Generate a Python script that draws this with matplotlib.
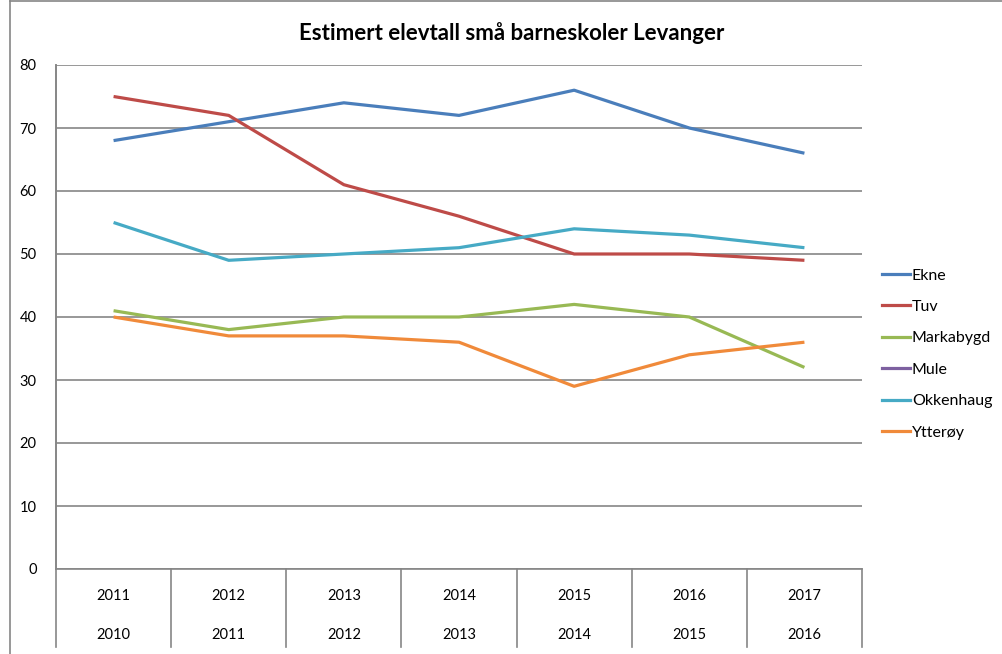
import matplotlib
matplotlib.use("Agg")
import matplotlib.pyplot as plt
from matplotlib.lines import Line2D
import numpy as np

plt.rcParams['font.family'] = ['Lato', 'DejaVu Sans']

years_top = ["2011", "2012", "2013", "2014", "2015", "2016", "2017"]
years_bottom = ["2010", "2011", "2012", "2013", "2014", "2015", "2016"]

series_names = ["Ekne", "Tuv", "Markabygd", "Mule", "Okkenhaug", "Ytterøy"]
ekne = [68, 71, 74, 72, 76, 70, 66]
tuv = [75, 72, 61, 56, 50, 50, 49]
markabygd = [41, 38, 40, 40, 42, 40, 32]
mule = [np.nan] * 7
okkenhaug = [55, 49, 50, 51, 54, 53, 51]
ytteroy = [40, 37, 37, 36, 29, 34, 36]
series_values = [ekne, tuv, markabygd, mule, okkenhaug, ytteroy]
colors = ["#4A7EBB", "#BE4B48", "#98B954", "#7D60A0", "#46AAC5", "#F08A3A"]

W, H = 1002, 654
fig = plt.figure(figsize=(W / 100, H / 100), dpi=100)

x0, x1 = 56, 862
ytop, ybot = 65, 569
ax = fig.add_axes([x0 / W, (H - ybot) / H, (x1 - x0) / W, (ybot - ytop) / H])

n = len(years_top)
xs = np.arange(n)
for name, vals, c in zip(series_names, series_values, colors):
    ax.plot(xs, vals, color=c, lw=2.3, label=name, solid_capstyle='butt')

ax.set_xlim(-0.5, n - 0.5)
ax.set_ylim(0, 80)
ax.set_yticks(range(0, 81, 10))
ax.yaxis.grid(True, color="#868686", lw=1.2)
ax.set_axisbelow(True)
for s in ["top", "right", "bottom"]:
    ax.spines[s].set_visible(False)
ax.spines["left"].set_color("#868686")
ax.spines["left"].set_linewidth(1.2)
ax.tick_params(axis='y', length=0, pad=14, labelsize=10.5)
ax.tick_params(axis='x', length=0)
ax.set_xticks([])
ax.axhline(0, color="#868686", lw=1.2, clip_on=False)

# multi-level category axis
trans = ax.get_xaxis_transform()
sep_bottom = -(647 - ybot) / (ybot - ytop)
for i in range(n + 1):
    xb = i - 0.5
    ax.add_line(Line2D([xb, xb], [0, sep_bottom], transform=trans, color="#868686", lw=1.2, clip_on=False))
ax.add_line(Line2D([-0.5, -0.5], [1, 0], transform=trans, color="#868686", lw=1.2, clip_on=False))
row1 = -(596 - ybot) / (ybot - ytop)
row2 = -(635 - ybot) / (ybot - ytop)
for i in range(n):
    ax.text(i, row1, years_top[i], transform=trans, ha='center', va='center', fontsize=10.5)
    ax.text(i, row2, years_bottom[i], transform=trans, ha='center', va='center', fontsize=10.5)

# legend
handles = [Line2D([0], [0], color=c, lw=2.3) for c in colors]
leg = fig.legend(handles, series_names, loc='upper left', bbox_to_anchor=(876 / W, 1 - 262 / H),
                 frameon=False, fontsize=11.5, handlelength=1.75, handletextpad=0.1,
                 labelspacing=1.08, borderaxespad=0)

fig.text(512 / W, 1 - 33 / H, "Estimert elevtall små barneskoler Levanger",
         ha='center', va='center', fontsize=16, fontweight='bold')

# chart frame
fig.add_artist(Line2D([10 / W, 10 / W], [0, 1 - 1 / H], transform=fig.transFigure, color="#868686", lw=1.2))
fig.add_artist(Line2D([10 / W, 1], [1 - 1 / H, 1 - 1 / H], transform=fig.transFigure, color="#868686", lw=1.2))

fig.savefig("out.png", dpi=100)
